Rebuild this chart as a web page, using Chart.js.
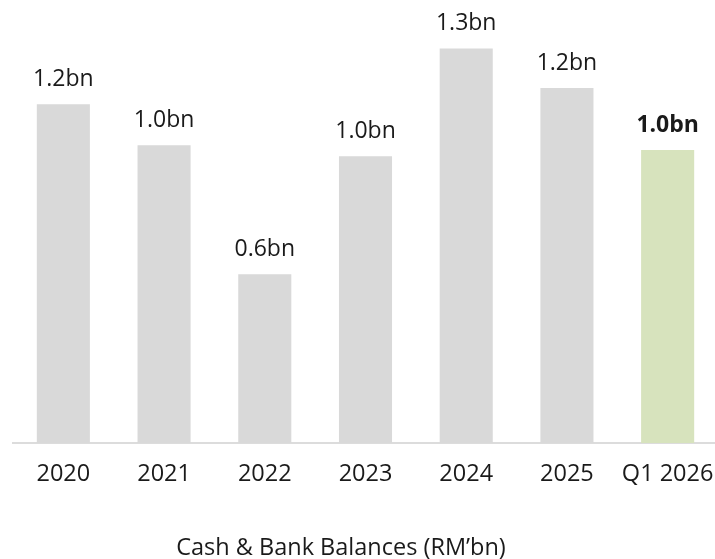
<!DOCTYPE html>
<html>
<head>
<meta charset="utf-8">
<script src="https://cdn.jsdelivr.net/npm/chart.js@4.4.1/dist/chart.umd.min.js"></script>
<style>
  html, body { margin: 0; padding: 0; background: #ffffff; overflow: hidden; width: 715px; height: 559px; }
  #wrap { width: 718px; height: 559px; }
</style>
</head>
<body>
<div id="wrap"><canvas id="c" width="718" height="559"></canvas></div>
<script>
const categories = ["2020", "2021", "2022", "2023", "2024", "2025", "Q1 2026"];
const cashValues = [1.154, 1.014, 0.575, 0.977, 1.344, 1.209, 0.998];
const valueLabels = ["1.2bn", "1.0bn", "0.6bn", "1.0bn", "1.3bn", "1.2bn", "1.0bn"];
const highlightIndex = 6;
const chartTitle = "Cash & Bank Balances (RM\u2019bn)";

const FONT = "'Open Sans', sans-serif";
const GREY = "#d9d9d9";
const GREEN = "#d7e3bd";
const TEXT = "#1a1a1a";

const labelPlugin = {
  id: 'valueLabels',
  afterDatasetsDraw(chart) {
    const ctx = chart.ctx;
    const meta = chart.getDatasetMeta(0);
    ctx.save();
    ctx.fillStyle = TEXT;
    ctx.textAlign = 'center';
    ctx.textBaseline = 'alphabetic';
    meta.data.forEach((bar, i) => {
      ctx.font = (i === highlightIndex ? "700 " : "400 ") + "23px " + FONT;
      ctx.fillText(valueLabels[i], bar.x, bar.y - 18);
    });
    ctx.font = "400 23.5px " + FONT;
    ctx.fillText(chartTitle, 341, 555);
    ctx.restore();
  }
};

new Chart(document.getElementById('c'), {
  type: 'bar',
  data: {
    labels: categories,
    datasets: [{
      data: cashValues,
      backgroundColor: categories.map((_, i) => i === highlightIndex ? GREEN : GREY),
      borderWidth: 0,
      categoryPercentage: 1.0,
      barPercentage: 0.527
    }]
  },
  options: {
    responsive: false,
    animation: false,
    devicePixelRatio: 1,
    layout: { padding: { top: 32, left: 13, right: 0, bottom: 0 } },
    plugins: { legend: { display: false }, tooltip: { enabled: false }, title: { display: false } },
    scales: {
      x: {
        grid: { display: false, drawTicks: false },
        border: { display: true, color: "#dcdcdc", width: 2 },
        ticks: { color: TEXT, font: { family: FONT, size: 23.5 }, padding: 17, maxRotation: 0, autoSkip: false },
        afterFit(scale) { scale.height = 116; scale.paddingLeft = 0; scale.paddingRight = 0; }
      },
      y: {
        display: false,
        min: 0,
        max: 1.4
      }
    }
  },
  plugins: [labelPlugin]
});
</script>
</body>
</html>
